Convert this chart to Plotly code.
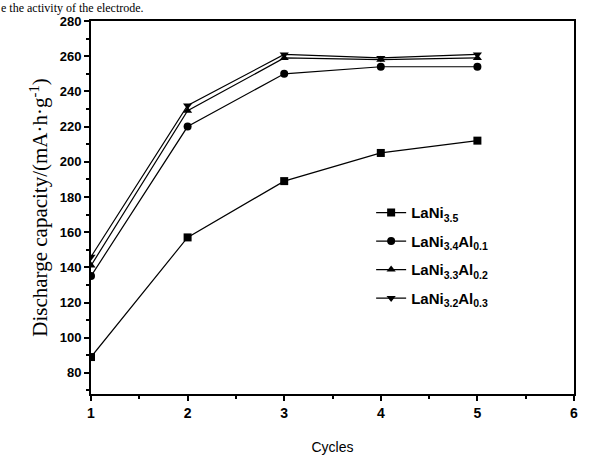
import plotly.graph_objects as go

cycles = [1, 2, 3, 4, 5]
s_names = ["<b>LaNi<sub>3.5</sub></b>", "<b>LaNi<sub>3.4</sub>Al<sub>0.1</sub></b>",
           "<b>LaNi<sub>3.3</sub>Al<sub>0.2</sub></b>", "<b>LaNi<sub>3.2</sub>Al<sub>0.3</sub></b>"]
s1 = [89, 157, 189, 205, 212]
s2 = [135, 220, 250, 254, 254]
s3 = [141, 229, 259, 258, 259]
s4 = [146, 232, 261, 259, 261]
symbols = ["square", "circle", "triangle-up", "triangle-down"]

fig = go.Figure()
for i, (name, vals, sym) in enumerate(zip(s_names, [s1, s2, s3, s4], symbols)):
    fig.add_trace(go.Scatter(
        x=cycles, y=vals, name=name, mode="lines+markers", legendgroup=f"g{i}",
        line=dict(color="black", width=1.2),
        marker=dict(symbol=sym, size=8, color="black"),
    ))

fig.update_layout(
    width=589, height=464,
    margin=dict(l=91, r=11, t=21, b=62),
    paper_bgcolor="white", plot_bgcolor="white",
    showlegend=True,
    legend=dict(x=0.58, y=0.53, xanchor="left", yanchor="top",
                font=dict(family="Liberation Sans", size=15, color="black"),
                bgcolor="rgba(0,0,0,0)", tracegroupgap=6),
    font=dict(family="Liberation Sans", color="black"),
)
fig.update_xaxes(
    range=[1, 6], tickmode="linear", tick0=1, dtick=1,
    showline=True, linecolor="black", linewidth=2, mirror=True,
    ticks="outside", ticklen=5, tickwidth=1.5, tickcolor="black",
    minor=dict(ticks="outside", ticklen=3, dtick=0.5, tickcolor="black"),
    showgrid=False, zeroline=False,
    tickprefix="<b>", ticksuffix="</b>",
    tickfont=dict(family="Liberation Sans", size=14, color="black"),
    title=dict(text="Cycles", font=dict(family="Liberation Sans", size=14), standoff=22),
)
fig.update_yaxes(
    range=[68, 280], tickmode="linear", tick0=80, dtick=20,
    showline=True, linecolor="black", linewidth=2, mirror=True,
    ticks="outside", ticklen=5, tickwidth=1.5, tickcolor="black",
    minor=dict(ticks="outside", ticklen=3, dtick=10, tickcolor="black"),
    showgrid=False, zeroline=False,
    tickprefix="<b>", ticksuffix="</b>",
    tickfont=dict(family="Liberation Sans", size=13, color="black"),
    title=dict(text="Discharge capacity/(mA·h·g<sup>-1</sup>)",
               font=dict(family="Liberation Serif", size=21), standoff=6),
)
fig.add_annotation(text="e the activity of the electrode.", xref="paper", yref="paper",
                   x=-0.19, y=1.058, xanchor="left", yanchor="top", showarrow=False,
                   font=dict(family="Liberation Serif", size=12, color="black"))
fig.write_html("out.html")
